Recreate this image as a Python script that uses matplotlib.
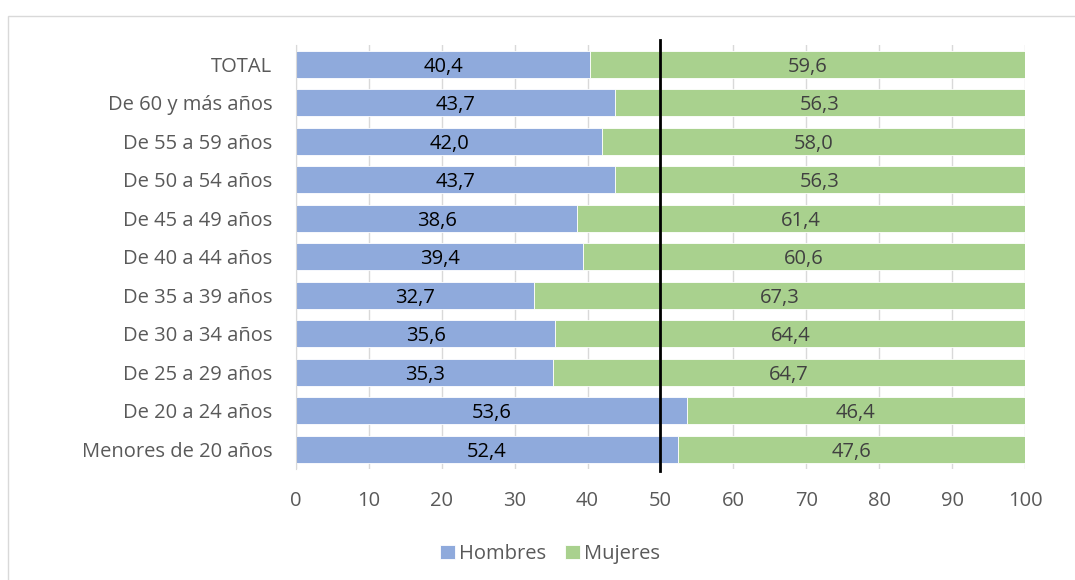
import numpy as np
import matplotlib
matplotlib.use('Agg')
import matplotlib.pyplot as plt
from matplotlib.patches import Rectangle

# Datos
grupos = ['TOTAL', 'De 60 y más años', 'De 55 a 59 años', 'De 50 a 54 años',
          'De 45 a 49 años', 'De 40 a 44 años', 'De 35 a 39 años',
          'De 30 a 34 años', 'De 25 a 29 años', 'De 20 a 24 años',
          'Menores de 20 años']
hombres = [40.4, 43.7, 42.0, 43.7, 38.6, 39.4, 32.7, 35.6, 35.3, 53.6, 52.4]
mujeres = [59.6, 56.3, 58.0, 56.3, 61.4, 60.6, 67.3, 64.4, 64.7, 46.4, 47.6]
ticks_x = [0, 10, 20, 30, 40, 50, 60, 70, 80, 90, 100]

plt.rcParams['font.family'] = ['Open Sans', 'DejaVu Sans']

fig = plt.figure(figsize=(10.75, 5.8), dpi=100)
ax = fig.add_axes([0.2753, 0.1922, 0.6782, 0.7302])

# borde exterior del gráfico
fig.patches.append(Rectangle((8 / 1075, -0.05), 1.1, 1 - 16 / 580 + 0.05,
                             transform=fig.transFigure, fill=False,
                             edgecolor='#D9D9D9', linewidth=1))

y = np.arange(len(grupos))
azul = '#8FAADC'
verde = '#A9D18E'
ax.barh(y, hombres, height=0.7, color=azul, edgecolor='white', linewidth=0.6,
        label='Hombres', zorder=2)
ax.barh(y, mujeres, left=hombres, height=0.7, color=verde, edgecolor='white',
        linewidth=0.6, label='Mujeres', zorder=2)

for i in range(len(grupos)):
    ax.text(hombres[i] / 2, y[i], f'{hombres[i]:.1f}'.replace('.', ','),
            ha='center', va='center_baseline', fontsize=14.5, color='black', zorder=3)
    ax.text(hombres[i] + mujeres[i] / 2, y[i], f'{mujeres[i]:.1f}'.replace('.', ','),
            ha='center', va='center_baseline', fontsize=14.5, color='#404040', zorder=3)

ax.axvline(50, ymin=-0.005, ymax=1.012, color='black', linewidth=2,
           clip_on=False, zorder=4)

ax.set_xlim(0, 100)
ax.set_ylim(len(grupos) - 0.5, -0.5)
ax.set_xticks(ticks_x)
ax.set_yticks(y)
ax.set_yticklabels(grupos)
ax.grid(axis='x', color='#D9D9D9', linewidth=1, zorder=0)
ax.set_axisbelow(True)
for s in ['top', 'right', 'bottom']:
    ax.spines[s].set_visible(False)
ax.spines['left'].set_color('#D9D9D9')
ax.tick_params(axis='y', length=0, pad=17, labelsize=14.5, labelcolor='#595959')
ax.tick_params(axis='x', length=0, pad=16, labelsize=14.5, labelcolor='#595959')

ax.legend(loc='center', bbox_to_anchor=(550 / 1075, 26 / 580),
          bbox_transform=fig.transFigure, ncol=2, frameon=False,
          fontsize=14.5, handlelength=0.75, handleheight=0.75, handletextpad=0.2,
          columnspacing=0.9, labelcolor='#595959')

fig.savefig('out.png', dpi=100)
